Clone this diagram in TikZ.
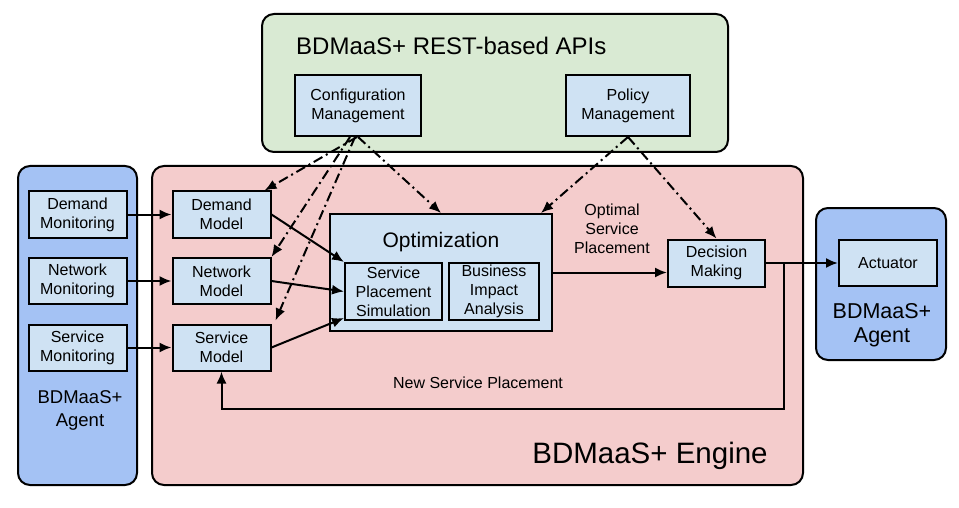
\documentclass[tikz,border=0pt]{standalone}
\usepackage{fontspec}
\setmainfont{Liberation Sans}
\usetikzlibrary{arrows.meta,positioning}
\definecolor{apigreen}{RGB}{217,234,211}
\definecolor{enginepink}{RGB}{244,204,204}
\definecolor{agentblue}{RGB}{164,194,244}
\definecolor{boxblue}{RGB}{207,226,243}

\begin{document}
\begin{tikzpicture}[x=1pt,y=-1pt,
    node distance=18.5pt and 44pt,
    group/.style={draw,line width=2pt,rounded corners=12pt},
    block/.style={rectangle,draw,line width=2pt,fill=boxblue,minimum width=98pt,
                  minimum height=46pt,inner sep=0pt,align=center,
                  font=\fontsize{16}{19}\selectfont},
    label/.style={align=center,inner sep=0pt,font=\fontsize{16}{19}\selectfont},
    arrow/.style={-{Latex[length=12pt,width=10pt]},line width=2pt},
    ctrl/.style={arrow,dash pattern=on 10pt off 4pt on 2pt off 4pt}
]
    \useasboundingbox[fill=white] (0,0) rectangle (959,508);

    % group backgrounds
    \draw[group,fill=apigreen] (262,14) rectangle (728,152);
    \draw[group,fill=enginepink] (152,166) rectangle (803,485);
    \draw[group,fill=agentblue] (18,166) rectangle (137,485);
    \draw[group,fill=agentblue] (816,208) rectangle (946,360);

    \node[anchor=west,inner sep=0pt,font=\fontsize{24}{28}\selectfont] (apititle) at (296,46)
        {BDMaaS+ REST-based APIs};
    \node[inner sep=0pt,font=\fontsize{29.5}{34}\selectfont] (enginetitle) at (650,456)
        {BDMaaS+ Engine};
    \node[align=center,inner sep=0pt,font=\fontsize{18.5}{23}\selectfont] (lagent) at (80,410)
        {BDMaaS+\\Agent};
    \node[align=center,inner sep=0pt,font=\fontsize{21.5}{24}\selectfont] (ragent) at (882,325)
        {BDMaaS+\\Agent};

    % API blocks
    \node[block,minimum width=126pt,minimum height=61pt] (cfg) at (358,105.5)
        {Configuration\\Management};
    \node[block,minimum width=124pt,minimum height=61pt] (pol) at (628,105.5)
        {Policy\\Management};

    % monitoring and models
    \node[block] (dmon) at (77.5,214.5) {Demand\\Monitoring};
    \node[block,below=of dmon] (nmon) {Network\\Monitoring};
    \node[block,below=of nmon] (smon) {Service\\Monitoring};
    \node[block,right=of dmon] (dmod) {Demand\\Model};
    \node[block,right=of nmon] (nmod) {Network\\Model};
    \node[block,right=of smon] (smod) {Service\\Model};

    % optimization
    \node[block,minimum width=222pt,minimum height=117pt] (opt) at (441,272.5) {};
    \node[inner sep=0pt,font=\fontsize{21}{24}\selectfont] (opttitle) at (441,242)
        {Optimization};
    \node[block,minimum width=97pt,minimum height=57pt] (sps) at (393.5,291.5)
        {Service\\Placement\\Simulation};
    \node[block,minimum width=90pt,minimum height=57pt] (bia) at (494,291.5)
        {Business\\Impact\\Analysis};

    \node[block,minimum width=97pt,minimum height=47pt] (dec) at (716.5,263)
        {Decision\\Making};
    \node[block] (act) at (888,263) {Actuator};

    \node[label] (optplace) at (612,229) {Optimal\\Service\\Placement};
    \node[label] (newplace) at (478,383) {New Service Placement};

    % data flow
    \draw[arrow] (dmon) -- (dmod);
    \draw[arrow] (nmon) -- (nmod);
    \draw[arrow] (smon) -- (smod);
    \draw[arrow] (dmod.east) -- (sps.north west);
    \draw[arrow] (nmod.east) -- (sps.west);
    \draw[arrow] (smod.east) -- ([yshift=3pt]sps.south west);
    \draw[arrow] (opt.east) -- (opt.east -| dec.west);
    \draw[arrow] (dec) -- (act);
    \coordinate (fbstart) at (784,263);
    \coordinate (fbturn) at (784,409);
    \draw[arrow] (fbstart) -- (fbturn) -| (smod.south);

    % control flow
    \draw[ctrl] ([xshift=-1pt]cfg.south) -- ([xshift=-7pt]dmod.north east);
    \draw[ctrl] ([xshift=-8pt]cfg.south) -- (nmod.north east);
    \draw[ctrl] ([xshift=-3pt]cfg.south) -- ([xshift=4pt,yshift=3pt]smod.north east);
    \draw[ctrl] (cfg.south) -- (opt.north);
    \draw[ctrl] (pol.south) -- ([xshift=-12pt]opt.north east);
    \draw[ctrl] (pol.south) -- (dec.north);
\end{tikzpicture}
\end{document}
